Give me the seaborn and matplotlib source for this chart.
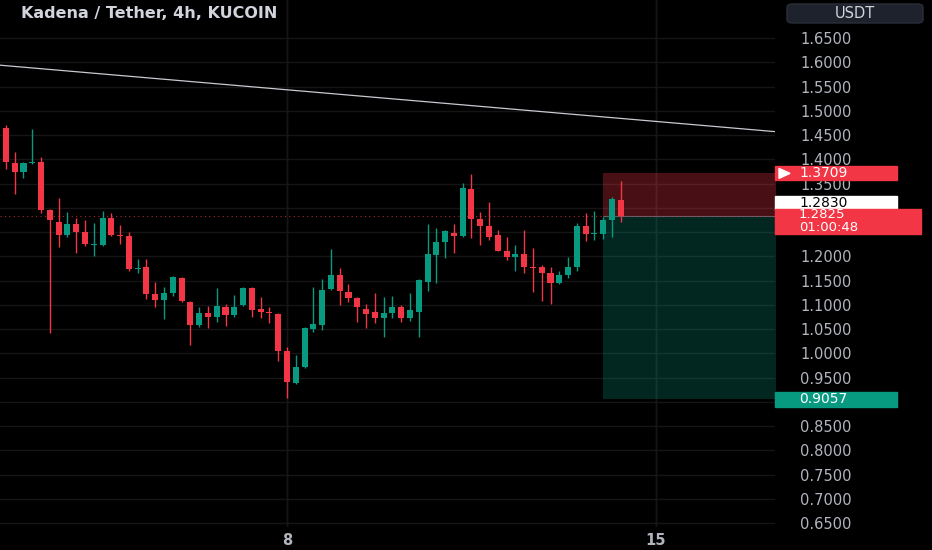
import matplotlib
matplotlib.use("Agg")
import numpy as np
import pandas as pd
import matplotlib.pyplot as plt
import matplotlib.dates as mdates
import seaborn as sns
from matplotlib.patches import Rectangle, FancyBboxPatch, Polygon

# KDA/USDT 4h candles
candle_times = pd.date_range("2023-12-02 16:00", periods=71, freq="4h")
opens = [1.464, 1.392, 1.374, 1.392, 1.394, 1.295, 1.271, 1.244, 1.267, 1.250,
         1.223, 1.223, 1.279, 1.244, 1.242, 1.174, 1.178, 1.122, 1.110, 1.124,
         1.155, 1.106, 1.058, 1.083, 1.075, 1.095, 1.079, 1.099, 1.135, 1.091,
         1.085, 1.081, 1.005, 0.939, 0.972, 1.050, 1.058, 1.133, 1.161, 1.126,
         1.114, 1.091, 1.085, 1.073, 1.083, 1.095, 1.073, 1.085, 1.147, 1.203,
         1.229, 1.248, 1.242, 1.339, 1.277, 1.262, 1.244, 1.211, 1.199, 1.205,
         1.178, 1.178, 1.166, 1.145, 1.161, 1.178, 1.262, 1.246, 1.246, 1.275,
         1.316]
highs = [1.471, 1.415, 1.394, 1.462, 1.405, 1.297, 1.320, 1.291, 1.279, 1.275,
         1.269, 1.293, 1.289, 1.264, 1.250, 1.194, 1.194, 1.147, 1.137, 1.159,
         1.157, 1.108, 1.095, 1.097, 1.135, 1.102, 1.120, 1.137, 1.137, 1.116,
         1.095, 1.083, 1.013, 0.996, 1.054, 1.137, 1.153, 1.215, 1.176, 1.143,
         1.116, 1.102, 1.124, 1.116, 1.118, 1.099, 1.124, 1.153, 1.267, 1.258,
         1.254, 1.267, 1.351, 1.370, 1.291, 1.312, 1.254, 1.240, 1.223, 1.254,
         1.217, 1.182, 1.178, 1.170, 1.199, 1.269, 1.289, 1.293, 1.281, 1.322,
         1.355]
lows = [1.380, 1.328, 1.361, 1.390, 1.289, 1.042, 1.219, 1.240, 1.207, 1.221,
        1.201, 1.221, 1.242, 1.225, 1.170, 1.166, 1.112, 1.095, 1.071, 1.118,
        1.106, 1.017, 1.054, 1.052, 1.064, 1.056, 1.075, 1.097, 1.075, 1.073,
        1.062, 0.984, 0.908, 0.937, 0.970, 1.044, 1.048, 1.130, 1.100, 1.106,
        1.064, 1.052, 1.062, 1.034, 1.073, 1.064, 1.067, 1.034, 1.128, 1.145,
        1.196, 1.207, 1.240, 1.238, 1.223, 1.234, 1.211, 1.192, 1.170, 1.166,
        1.126, 1.108, 1.102, 1.143, 1.155, 1.170, 1.231, 1.234, 1.236, 1.240,
        1.271]
closes = [1.394, 1.374, 1.392, 1.394, 1.295, 1.275, 1.244, 1.267, 1.250, 1.225,
          1.225, 1.279, 1.244, 1.242, 1.174, 1.176, 1.122, 1.110, 1.124, 1.157,
          1.108, 1.058, 1.083, 1.075, 1.097, 1.079, 1.095, 1.135, 1.089, 1.085,
          1.083, 1.005, 0.941, 0.972, 1.052, 1.060, 1.130, 1.161, 1.128, 1.114,
          1.095, 1.081, 1.073, 1.083, 1.095, 1.073, 1.089, 1.151, 1.205, 1.229,
          1.252, 1.242, 1.341, 1.277, 1.262, 1.240, 1.211, 1.199, 1.205, 1.178,
          1.176, 1.166, 1.145, 1.161, 1.178, 1.262, 1.246, 1.248, 1.275, 1.318,
          1.2825]

# drawings
trend_time = ["2023-12-02 13:18", "2023-12-17 06:14"]
trend_price = [1.594, 1.457]
position_start = "2023-12-14 00:00"
entry_price = 1.2830
stop_price = 1.3709
target_price = 0.9057
last_price = 1.2825
countdown = "01:00:48"

view_start = "2023-12-02 13:18"
view_end = "2023-12-17 06:14"
price_ticks = [0.65, 0.70, 0.75, 0.80, 0.85, 0.90, 0.95, 1.00, 1.05, 1.10, 1.15,
               1.20, 1.25, 1.30, 1.35, 1.40, 1.45, 1.50, 1.55, 1.60, 1.65]
hidden_ticks = [0.90, 1.25, 1.30]   # covered by the price flags
date_ticks = ["2023-12-08", "2023-12-15"]
date_labels = ["8", "15"]

UP = "#089981"
DOWN = "#f23645"
TXT = "#b2b5be"

sns.set_style("dark", {"axes.facecolor": "black", "figure.facecolor": "black",
                       "grid.color": "#151515", "axes.edgecolor": "black"})

fig = plt.figure(figsize=(9.32, 5.5), dpi=100)
ax = fig.add_axes([0, 23 / 550, 775 / 932, 527 / 550])

x = mdates.date2num(candle_times)
o = np.array(opens); h = np.array(highs); l = np.array(lows); c = np.array(closes)
cols = np.where(c >= o, UP, DOWN)

x0 = mdates.date2num(pd.Timestamp(position_start))
x1 = mdates.date2num(pd.Timestamp(view_end)) + 1
ax.fill_between([x0, x1], entry_price, stop_price, color=DOWN, alpha=0.3, lw=0, zorder=1)
ax.fill_between([x0, x1], target_price, entry_price, color=UP, alpha=0.25, lw=0, zorder=1)
ax.plot([x0, x1], [entry_price, entry_price], color="#787b86", lw=0.8, alpha=0.7, zorder=1.5)

sns.lineplot(x=mdates.date2num(pd.to_datetime(trend_time)), y=trend_price, ax=ax,
             color="#c8cad0", lw=0.9, zorder=2)
ax.axhline(last_price, color=DOWN, lw=0.8, ls=(0, (1, 3)), alpha=0.7, zorder=2)

ax.vlines(x, l, h, colors=cols, lw=1, zorder=3)
body = np.maximum(np.abs(c - o), 0.0025)
ax.bar(x, body, bottom=np.minimum(o, c), width=0.115, color=cols, lw=0, zorder=4)

ax.set_xlim(mdates.date2num(pd.Timestamp(view_start)), mdates.date2num(pd.Timestamp(view_end)))
ax.set_ylim(0.6418, 1.7284)
ax.grid(True, color="#151515", lw=1)
ax.set_axisbelow(True)
for s in ax.spines.values():
    s.set_visible(False)

ax.yaxis.tick_right()
ax.set_yticks(price_ticks)
ax.set_yticklabels(["" if any(abs(v - hv) < 1e-9 for hv in hidden_ticks) else f"{v:.4f}"
                    for v in price_ticks])
ax.set_xticks(mdates.date2num(pd.to_datetime(date_ticks)))
ax.set_xticklabels(date_labels)
ax.tick_params(axis="y", length=0, pad=18, labelsize=10.5, colors=TXT)
ax.tick_params(axis="x", length=0, pad=4, labelsize=10.5, colors=TXT)
for t in ax.get_xticklabels():
    t.set_fontweight("bold")
# vertical day lines slightly brighter than the price grid
for d in date_ticks:
    ax.axvline(mdates.date2num(pd.Timestamp(d)), color="#1f1f1f", lw=1, zorder=0.5)

W, H = 932, 550


def fx(px):
    return px / W


def fy(py):
    return 1 - py / H


def price_px(p):
    # pixel row (from top) of a price on the chart
    return H - ax.transData.transform((0, p))[1]


def flag(p, label, face, tcol, right=897, dy=0, hgt=14, arrow=False):
    yc = price_px(p) + dy
    fig.patches.append(Rectangle((fx(775), fy(yc + hgt / 2)), fx(right - 775), hgt / H,
                                 transform=fig.transFigure, color=face, zorder=5))
    fig.text(fx(799), fy(yc), label, color=tcol, fontsize=10, va="center", ha="left", zorder=6)
    if arrow:
        fig.patches.append(Polygon([(fx(779), fy(yc - 5)), (fx(779), fy(yc + 5)), (fx(790), fy(yc))],
                                   closed=True, transform=fig.transFigure, color="white", zorder=6))


flag(stop_price, f"{stop_price:.4f}", DOWN, "white", arrow=True)
flag(entry_price, f"{entry_price:.4f}", "white", "black", dy=-13.5)
flag(target_price, f"{target_price:.4f}", UP, "white", hgt=15)

yc = price_px(last_price)
fig.patches.append(Rectangle((fx(775), fy(yc + 18)), fx(921 - 775), 25 / H,
                             transform=fig.transFigure, color=DOWN, zorder=5))
fig.text(fx(799), fy(yc - 1.5), f"{last_price:.4f}", color="white", fontsize=9.5,
         va="center", ha="left", zorder=6)
fig.text(fx(799), fy(yc + 11.5), countdown, color="white", fontsize=9.5,
         va="center", ha="left", zorder=6)

fig.patches.append(FancyBboxPatch((fx(787), fy(23)), fx(136), 19 / H,
                                  boxstyle="round,pad=0,rounding_size=0.006",
                                  transform=fig.transFigure, facecolor="#1e222d",
                                  edgecolor="#2a2e39", lw=1, zorder=5))
fig.text(fx(855), fy(13.5), "USDT", color="#d1d4dc", fontsize=10.5, ha="center", va="center", zorder=6)

fig.text(fx(21), fy(13), "Kadena / Tether, 4h, KUCOIN", color="#d1d4dc", fontsize=11.5,
         fontweight="bold", ha="left", va="center")

fig.savefig("out.png", dpi=100, facecolor="black")
